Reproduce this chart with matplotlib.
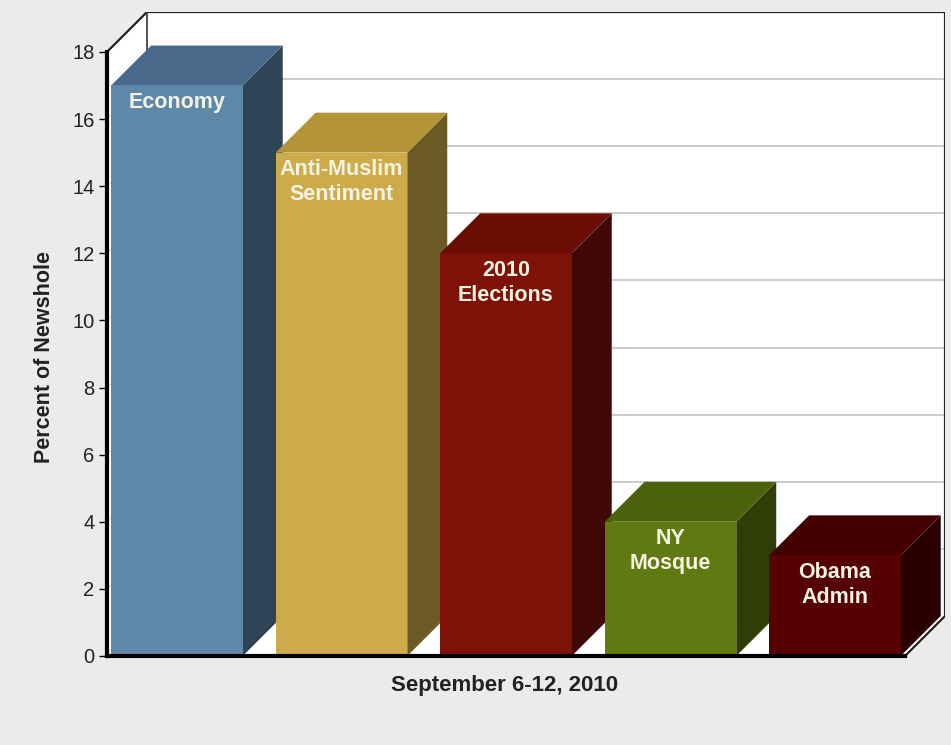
import matplotlib
matplotlib.use("Agg")
import matplotlib.pyplot as plt
from matplotlib.patches import Polygon

plt.rcParams['font.family'] = ['Liberation Sans', 'DejaVu Sans']

# weekly newshole share by topic
topics = ["Economy", "Anti-Muslim\nSentiment", "2010\nElections", "NY\nMosque", "Obama\nAdmin"]
share = [17, 15, 12, 4, 3]
yticks = [0, 2, 4, 6, 8, 10, 12, 14, 16, 18]

front = ["#5f87a8", "#cdab4b", "#7e1108", "#5f7a10", "#560202"]
top = ["#49698a", "#b39436", "#6a0d05", "#4b620b", "#440000"]
side = ["#2f4455", "#6c5a24", "#400804", "#2f3e07", "#2a0000"]

bg = "#ebebe9"
width = 0.80
dx, dy = 0.243, 1.19      # depth offset of the 3d box
x0, x1 = -0.4255, 4.669
ymax = 18

fig = plt.figure(figsize=(9.51, 7.45), dpi=100, facecolor=bg)
ax = fig.add_axes([0.1125, 0.1195, 0.8812, 0.8644])
ax.set_facecolor("none")
ax.set_xlim(x0, x1)
ax.set_ylim(0, ymax + dy)

# white walls and floor
ax.add_patch(Polygon([(x0, 0), (x0, ymax), (x0 + dx, ymax + dy), (x1, ymax + dy),
                      (x1, dy), (x1 - dx, 0)], closed=True, fc="white", ec="none", zorder=0))

# gridlines on back and left walls
for v in yticks[1:-1]:
    ax.plot([x0 + dx, x1], [v + dy, v + dy], color="#c8c8c8", lw=1.3, zorder=1)
    ax.plot([x0, x0 + dx], [v, v + dy], color="#dcdcdc", lw=0.8, zorder=1)

# wall frame
ax.plot([x0, x0 + dx, x1, x1, x1 - dx], [ymax, ymax + dy, ymax + dy, dy, 0],
        color="#222222", lw=1.6, zorder=1, solid_joinstyle="miter")
ax.plot([x0 + dx, x0 + dx], [dy, ymax + dy], color="#333333", lw=1.2, zorder=1)

# boxes, drawn left to right so later fronts cover earlier sides
for i, (name, v) in enumerate(zip(topics, share)):
    left, right = i - width / 2, i + width / 2
    z = 3 + 3 * i
    ax.add_patch(Polygon([(right, 0), (right + dx, dy), (right + dx, v + dy), (right, v)],
                         closed=True, fc=side[i], ec="none", zorder=z))
    ax.add_patch(Polygon([(left, v), (left + dx, v + dy), (right + dx, v + dy), (right, v)],
                         closed=True, fc=top[i], ec="none", zorder=z))
    ax.bar(i, v, width=width, color=front[i], zorder=z + 1)
    ax.text(i, v - 0.2, name, ha="center", va="top", color="#f4f2e2",
            fontsize=15.5, fontweight="bold", linespacing=1.25, zorder=z + 2)

for s in ["top", "right"]:
    ax.spines[s].set_visible(False)
ax.spines["left"].set_linewidth(3)
ax.spines["left"].set_bounds(0, ymax)
ax.spines["bottom"].set_linewidth(3)
ax.spines["bottom"].set_bounds(x0, x1 - dx)
ax.spines["left"].set_zorder(30)
ax.spines["bottom"].set_zorder(30)

ax.set_yticks(yticks)
ax.set_xticks([])
ax.tick_params(axis="y", length=6, width=1, labelsize=14.5, labelcolor="#222222", pad=3)

ax.set_ylabel("Percent of Newshole", fontsize=15.5, fontweight="bold", color="#222222")
ax.set_xlabel("September 6-12, 2010", fontsize=16, fontweight="bold", color="#222222")
ax.yaxis.set_label_coords(-0.062, 0.465)
ax.xaxis.set_label_coords(0.474, -0.03)
ax.xaxis.label.set_va("top")

fig.savefig("out.png", dpi=100, facecolor=bg)
